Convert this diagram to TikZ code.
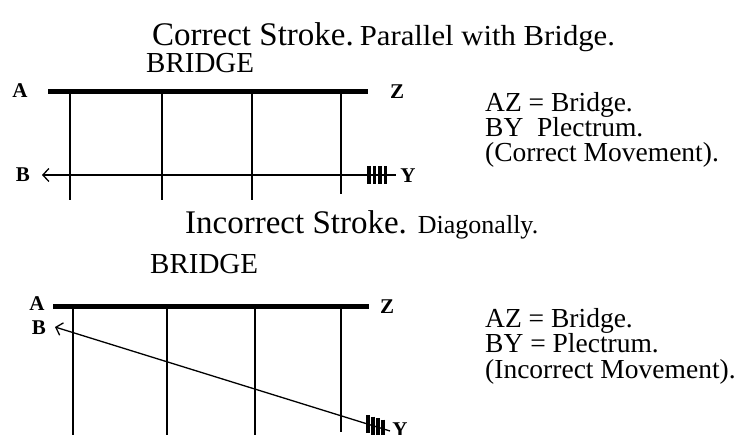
\documentclass[tikz,border=0pt]{standalone}
\usepackage{fontspec}
\setmainfont{Liberation Serif}
\usetikzlibrary{arrows.meta}
\begin{document}
\begin{tikzpicture}[x=1pt,y=-1pt,
  lbl/.style={font=\fontsize{21}{21}\selectfont\bfseries, inner sep=0pt},
  bridgebar/.style={line width=5pt},
  stringline/.style={line width=1.4pt},
  strokeline/.style={line width=1.3pt, {Straight Barb[length=6pt,width=13pt,line width=1.3pt]}-},
  plec/.style={line width=3.2pt},
  bigtitle/.style={anchor=base west, inner sep=0pt, font=\fontsize{33}{33}\selectfont},
  bridgetxt/.style={anchor=base west, inner sep=0pt, font=\fontsize{29}{29}\selectfont},
  txt/.style={anchor=base west, inner sep=0pt, font=\fontsize{27.5}{27.5}\selectfont},
]
\useasboundingbox (0,0) rectangle (754,435);

% ---------- top diagram ----------
\node[bigtitle] (t1) at (152,46) {Correct Stroke.\hspace{6pt}{\fontsize{29}{29}\selectfont\scalebox{1.06}[1]{Parallel with Bridge.}}};
\node[bridgetxt] (br1) at (146,73) {BRIDGE};

\node[lbl] (A1) at (20,91) {A};
\node[lbl] (Z1) at (397,92) {Z};
\node[lbl] (B1) at (23,175) {B};
\node[lbl] (Y1) at (408,176) {Y};

\coordinate (a1) at (48,92);
\coordinate (z1) at (368,92);
\draw[bridgebar] (a1) -- (z1);

\foreach \x/\b in {70/200,162/200,252/200,341/194}{
  \draw[stringline] (\x,92) -- (\x,\b);
}
\coordinate (b1) at (42,175);
\coordinate (y1) at (396,175);
\draw[strokeline] (b1) -- (y1);
\foreach \x in {369,374.5,380,385.5}{
  \draw[plec] (\x,166) -- (\x,184);
}

\node[txt] (r11) at (485,112) {AZ = Bridge.};
\node[txt] (r12) at (485,137) {BY\ \ Plectrum.};
\node[txt] (r13) at (485,162) {(Correct Movement).};

% ---------- bottom diagram ----------
\node[bigtitle] (t2) at (185,234) {Incorrect Stroke. {\fontsize{26}{26}\selectfont Diagonally.}};
\node[bridgetxt] (br2) at (150,273) {BRIDGE};

\node[lbl] (A2) at (37,304) {A};
\node[lbl] (Z2) at (387,307) {Z};
\node[lbl] (B2) at (39,328) {B};
\node[lbl] (Y2) at (400,430) {Y};

\coordinate (a2) at (53,306);
\coordinate (z2) at (369,306);
\draw[bridgebar] (a2) -- (z2);

\foreach \x/\b in {73/435,167/435,255/435,341/432}{
  \draw[stringline] (\x,306) -- (\x,\b);
}
\coordinate (b2) at (55,327);
\coordinate (y2) at (390,431);
\draw[strokeline] (b2) -- (y2);
\foreach \x in {368,373,378,383}{
  \pgfmathsetmacro{\yy}{327+0.31*(\x-55)}
  \draw[plec] (\x,\yy-9) -- (\x,\yy+9);
}

\node[txt] (r21) at (485,327) {AZ = Bridge.};
\node[txt] (r22) at (485,352) {BY = Plectrum.};
\node[txt] (r23) at (485,378) {(Incorrect Movement).};
\end{tikzpicture}
\end{document}
